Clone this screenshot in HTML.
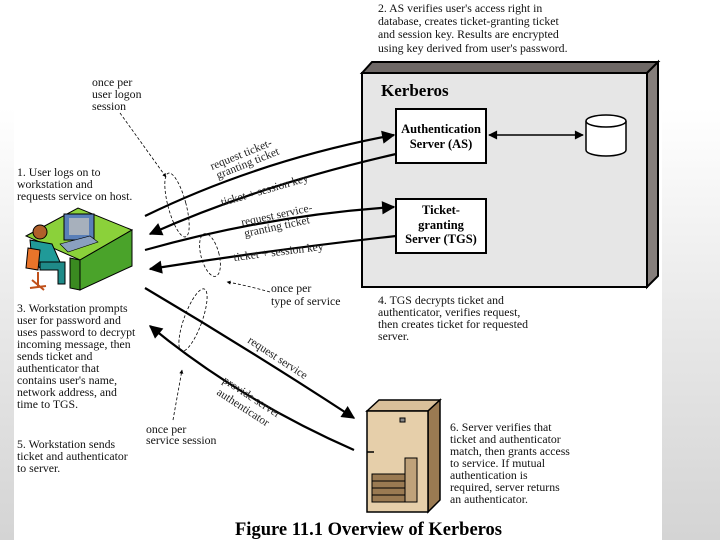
<!DOCTYPE html>
<html><head><meta charset="utf-8"><style>
html,body{margin:0;padding:0}
body{width:720px;height:540px;position:relative;overflow:hidden;background:linear-gradient(#fff 0,#fff 20%,#e8e8e8 60%,#d4d4d4 100%);font-family:"Liberation Serif",serif}
.fig{position:absolute;left:14px;top:0;width:648px;height:540px;background:#fff}
svg{position:absolute;left:0;top:0}
</style></head><body>
<div class="fig"></div>
<svg width="720" height="540" viewBox="0 0 720 540" font-family="Liberation Serif, serif">
<defs>
<marker id="a" viewBox="0 0 10 10" refX="9" refY="5" markerWidth="7" markerHeight="6" orient="auto-start-reverse"><path d="M0,0L10,5L0,10z" fill="#000"/></marker>
<marker id="s" viewBox="0 0 10 10" refX="9" refY="5" markerWidth="5" markerHeight="5" orient="auto"><path d="M0,0L10,5L0,10z" fill="#000"/></marker>
</defs>
<polygon points="362,73 372,62 658,62 647,73" fill="#6e6866" stroke="#000" stroke-width="2"/>
<polygon points="647,73 658,62 658,276 647,287" fill="#857e7b" stroke="#000" stroke-width="2"/>
<rect x="362" y="73" width="285" height="214" fill="#e6e6e6" stroke="#000" stroke-width="2"/>
<text x="381" y="96" font-size="17" font-weight="bold">Kerberos</text>
<rect x="396" y="109" width="90" height="54" fill="#fff" stroke="#000" stroke-width="2"/>
<text x="441" y="133" font-size="12.5" font-weight="bold" text-anchor="middle">Authentication</text>
<text x="441" y="148" font-size="12.5" font-weight="bold" text-anchor="middle">Server (AS)</text>
<rect x="396" y="199" width="90" height="54" fill="#fff" stroke="#000" stroke-width="2"/>
<text x="441" y="214" font-size="12.5" font-weight="bold" text-anchor="middle">Ticket-</text>
<text x="441" y="229" font-size="12.5" font-weight="bold" text-anchor="middle">granting</text>
<text x="441" y="243" font-size="12.5" font-weight="bold" text-anchor="middle">Server (TGS)</text>
<path d="M586,121 V150 A20,6 0 0 0 626,150 V121" fill="#fff" stroke="#000" stroke-width="1.5"/>
<ellipse cx="606" cy="121" rx="20" ry="6" fill="#fff" stroke="#000" stroke-width="1.5"/>
<line x1="489" y1="135" x2="583" y2="135" stroke="#000" stroke-width="1.5" marker-start="url(#a)" marker-end="url(#a)"/>
<g fill="none" stroke="#000" stroke-width="2.2">
<path d="M145,216 Q260,160 394,135" marker-end="url(#a)"/>
<path d="M396,154 Q260,185 150,234" marker-end="url(#a)"/>
<path d="M145,250 Q270,215 394,207" marker-end="url(#a)"/>
<path d="M396,236 Q270,250 150,269" marker-end="url(#a)"/>
<path d="M145,288 Q250,350 354,418" marker-end="url(#a)"/>
<path d="M354,450 Q240,400 150,326" marker-end="url(#a)"/>
</g>
<g fill="none" stroke="#000" stroke-width="0.8" stroke-dasharray="3,2">
<ellipse cx="177" cy="205" rx="9" ry="33" transform="rotate(-15 177 205)"/>
<ellipse cx="210" cy="255" rx="9" ry="22" transform="rotate(-15 210 255)"/>
<ellipse cx="193" cy="320" rx="9" ry="33" transform="rotate(20 193 320)"/>
<path d="M120,113 L166,177" marker-end="url(#s)"/>
<path d="M270,292 Q245,285 227,282" marker-end="url(#s)"/>
<path d="M173,420 L182,370" marker-end="url(#s)"/>
</g>
<g font-size="11.5" fill="#222">
<text transform="translate(212,170) rotate(-22)">request ticket-</text>
<text transform="translate(218,179) rotate(-22)">granting ticket</text>
<text transform="translate(222,206) rotate(-16)">ticket + session key</text>
<text transform="translate(242,226) rotate(-12)">request service-</text>
<text transform="translate(245,237) rotate(-12)">granting ticket</text>
<text transform="translate(234,261) rotate(-7)">ticket + session key</text>
<text transform="translate(247,342) rotate(33)">request service</text>
<text transform="translate(222,382) rotate(33)">provide server</text>
<text transform="translate(216,394) rotate(33)">authenticator</text>
</g>
<g font-size="11.8" fill="#111">
<text x="92" y="86">once per</text><text x="92" y="98">user logon</text><text x="92" y="110">session</text>
<text x="17" y="176">1. User logs on to</text><text x="17" y="188">workstation and</text><text x="17" y="200">requests service on host.</text>
<text x="378" y="12">2. AS verifies user's access right in</text>
<text x="378" y="25">database, creates ticket-granting ticket</text>
<text x="378" y="38">and session key. Results are encrypted</text>
<text x="378" y="52">using key derived from user's password.</text>
<text x="271" y="292">once per</text><text x="271" y="305">type of service</text>
<text x="17" y="312">3. Workstation prompts</text><text x="17" y="324">user for password and</text><text x="17" y="336">uses password to decrypt</text><text x="17" y="348">incoming message, then</text><text x="17" y="360">sends ticket and</text><text x="17" y="372">authenticator that</text><text x="17" y="384">contains user's name,</text><text x="17" y="396">network address, and</text><text x="17" y="408">time to TGS.</text>
<text x="378" y="304">4. TGS decrypts ticket and</text><text x="378" y="316">authenticator, verifies request,</text><text x="378" y="328">then creates ticket for requested</text><text x="378" y="340">server.</text>
<text x="146" y="433">once per</text><text x="146" y="444">service session</text>
<text x="17" y="448">5. Workstation sends</text><text x="17" y="460">ticket and authenticator</text><text x="17" y="472">to server.</text>
<text x="450" y="431">6. Server verifies that</text><text x="450" y="443">ticket and authenticator</text><text x="450" y="455">match, then grants access</text><text x="450" y="467">to service. If mutual</text><text x="450" y="479">authentication is</text><text x="450" y="491">required, server returns</text><text x="450" y="503">an authenticator.</text>
</g>
<text x="235" y="535" font-size="18.5" font-weight="bold">Figure 11.1   Overview of Kerberos</text>
<polygon points="26,236 78,208 132,230 80,260" fill="#8bd13a" stroke="#000"/>
<polygon points="80,260 132,230 132,266 80,290" fill="#4aa32a" stroke="#000"/>
<polygon points="70,258 80,260 80,290 70,288" fill="#3a8a20" stroke="#000"/>
<rect x="64" y="214" width="30" height="26" fill="#5a7fb8" stroke="#000"/>
<rect x="69" y="218" width="20" height="17" fill="#a7b0bc"/>
<polygon points="60,244 90,236 98,242 68,252" fill="#8aa0c0" stroke="#000" stroke-width="0.6"/>
<circle cx="40" cy="232" r="7" fill="#b0602a" stroke="#000"/>
<path d="M30,240 L52,244 L60,262 L40,268 L32,260z" fill="#209a98" stroke="#000"/>
<path d="M28,248 L40,250 L38,270 L26,268z" fill="#e8742a" stroke="#000"/>
<path d="M40,262 L65,262 L65,284 L58,284 L58,270 L40,270z" fill="#1f8a88" stroke="#000"/>
<path d="M38,272 L38,288 M30,288 L46,286 M32,280 L44,290" stroke="#c0501a" stroke-width="2"/>
<polygon points="367,411 379,400 440,400 428,411" fill="#d9c09a" stroke="#000" stroke-width="1.5"/>
<polygon points="428,411 440,400 440,500 428,512" fill="#9a7a52" stroke="#000" stroke-width="1.5"/>
<rect x="367" y="411" width="61" height="101" fill="#e6cfaa" stroke="#000" stroke-width="1.5"/>
<rect x="400" y="418" width="5" height="4" fill="#888" stroke="#000"/>
<rect x="372" y="474" width="45" height="28" fill="#9a7a52" stroke="#000"/>
<path d="M372,481h45M372,488h45M372,495h45" stroke="#000"/>
<rect x="405" y="458" width="12" height="44" fill="#bfa27a" stroke="#000"/>
<line x1="367" y1="452" x2="374" y2="452" stroke="#000" stroke-width="1.5"/>
</svg>
</body></html>
